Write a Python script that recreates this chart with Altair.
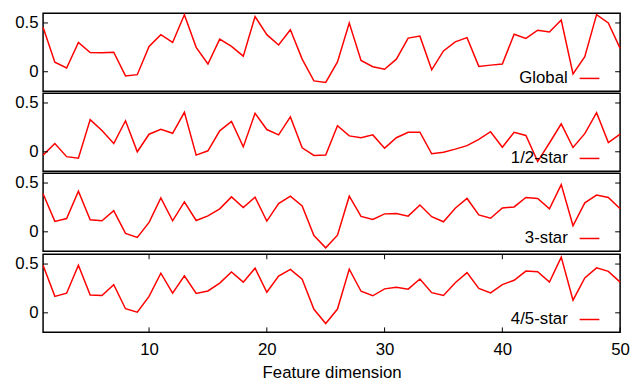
import altair as alt
import pandas as pd

DIMS = list(range(1, 51))
GLOBAL = [0.455, 0.097, 0.039, 0.30, 0.197, 0.194, 0.20, -0.043, -0.03, 0.26,
          0.38, 0.30, 0.585, 0.25, 0.08, 0.335, 0.26, 0.16, 0.565, 0.38,
          0.274, 0.43, 0.13, -0.094, -0.11, 0.10, 0.50, 0.116, 0.051, 0.025,
          0.129, 0.345, 0.365, 0.02, 0.213, 0.306, 0.35, 0.055, 0.068, 0.08,
          0.385, 0.342, 0.426, 0.407, 0.53, -0.023, 0.155, 0.585, 0.50, 0.24]
HALF = [-0.034, 0.085, -0.05, -0.066, 0.33, 0.218, 0.085, 0.318, 0.0, 0.18,
        0.23, 0.19, 0.405, -0.034, 0.01, 0.215, 0.31, 0.05, 0.395, 0.228,
        0.173, 0.357, 0.04, -0.037, -0.034, 0.267, 0.163, 0.144, 0.173, 0.037,
        0.144, 0.2, 0.2, -0.02, -0.005, 0.027, 0.063, 0.128, 0.206, 0.047,
        0.2, 0.167, -0.10, 0.09, 0.286, 0.044, 0.186, 0.40, 0.095, 0.18]
THREE = [0.39, 0.107, 0.136, 0.416, 0.123, 0.113, 0.216, -0.016, -0.058, 0.097,
         0.348, 0.113, 0.307, 0.116, 0.164, 0.236, 0.358, 0.248, 0.355, 0.11,
         0.29, 0.365, 0.265, -0.039, -0.164, -0.035, 0.365, 0.158, 0.126, 0.184,
         0.187, 0.161, 0.274, 0.155, 0.103, 0.242, 0.342, 0.174, 0.139, 0.245,
         0.255, 0.352, 0.342, 0.236, 0.484, 0.062, 0.297, 0.377, 0.352, 0.236]
FOURFIVE = [0.487, 0.169, 0.201, 0.487, 0.182, 0.178, 0.289, 0.042, 0.006, 0.169,
            0.406, 0.201, 0.38, 0.198, 0.224, 0.305, 0.419, 0.315, 0.458, 0.211,
            0.377, 0.445, 0.344, 0.036, -0.11, 0.039, 0.448, 0.221, 0.175, 0.246,
            0.263, 0.243, 0.347, 0.207, 0.178, 0.309, 0.412, 0.25, 0.204, 0.289,
            0.334, 0.428, 0.422, 0.315, 0.571, 0.13, 0.357, 0.461, 0.425, 0.315]
SERIES_NAMES = ["Global", "1/2-star", "3-star", "4/5-star"]
X_TICKS = [10, 20, 30, 40, 50]
Y_TICKS = [0, 0.5]

W, H = 584, 79
FONT = "Liberation Sans"
FS = 17
RED = "#ff0000"

xs = alt.Scale(domain=[1, 50], nice=False, zero=False)
ys = alt.Scale(domain=[-0.2, 0.6], nice=False, zero=False)


def panel(name, values, last):
    df = pd.DataFrame({"dim": DIMS, "v": values})
    if last:
        x_axis = alt.Axis(values=X_TICKS, ticks=False, domain=False, grid=False,
                          labelFontSize=FS, labelFont=FONT, labelPadding=9,
                          labelFlush=False, labelColor="black",
                          title="Feature dimension",
                          titleFontSize=FS, titleFont=FONT, titleFontWeight="normal",
                          titlePadding=8, titleColor="black")
    else:
        x_axis = None
    y_axis = alt.Axis(values=Y_TICKS, format=".1~f", ticks=False, domain=False,
                      grid=False, labelFontSize=FS, labelFont=FONT, labelPadding=5,
                      labelColor="black", title=None)
    line = alt.Chart(df).mark_line(color=RED, strokeWidth=1.5).encode(
        x=alt.X("dim:Q", scale=xs, axis=x_axis),
        y=alt.Y("v:Q", scale=ys, axis=y_axis),
    )
    ydf = pd.DataFrame({"t": Y_TICKS})
    yl = alt.Chart(ydf).mark_rule(color="black", strokeWidth=1).encode(
        y=alt.Y("t:Q", scale=ys, axis=y_axis), x=alt.value(0), x2=alt.value(5))
    yr = alt.Chart(ydf).mark_rule(color="black", strokeWidth=1).encode(
        y=alt.Y("t:Q", scale=ys, axis=y_axis), x=alt.value(W - 5), x2=alt.value(W))
    ldf = pd.DataFrame({"name": [name]})
    txt = alt.Chart(ldf).mark_text(align="right", baseline="middle", fontSize=FS,
                                   font=FONT, color="black").encode(
        text="name:N", x=alt.value(531), y=alt.value(H - 13))
    sample = alt.Chart(ldf).mark_rule(color=RED, strokeWidth=1.5).encode(
        x=alt.value(543), x2=alt.value(563), y=alt.value(H - 13))
    layers = [line, yl, yr]
    if last:
        xdf = pd.DataFrame({"t": X_TICKS})
        xt = alt.Chart(xdf).mark_rule(color="black", strokeWidth=1).encode(
            x=alt.X("t:Q", scale=xs, axis=x_axis), y=alt.value(0), y2=alt.value(5))
        xb = alt.Chart(xdf).mark_rule(color="black", strokeWidth=1).encode(
            x=alt.X("t:Q", scale=xs, axis=x_axis), y=alt.value(H - 5), y2=alt.value(H))
        layers += [xt, xb]
    layers += [txt, sample]
    return alt.layer(*layers).properties(width=W, height=H)


series = [GLOBAL, HALF, THREE, FOURFIVE]
panels = [panel(n, s, i == 3) for i, (n, s) in enumerate(zip(SERIES_NAMES, series))]

chart = alt.vconcat(*panels, spacing=0).properties(
    padding={"left": 5.5, "top": 0, "right": -1, "bottom": 0}
).configure(background="white").configure_view(stroke="black", strokeWidth=1.5)

chart.save("out.html", embed_options={"renderer": "svg", "actions": False})
